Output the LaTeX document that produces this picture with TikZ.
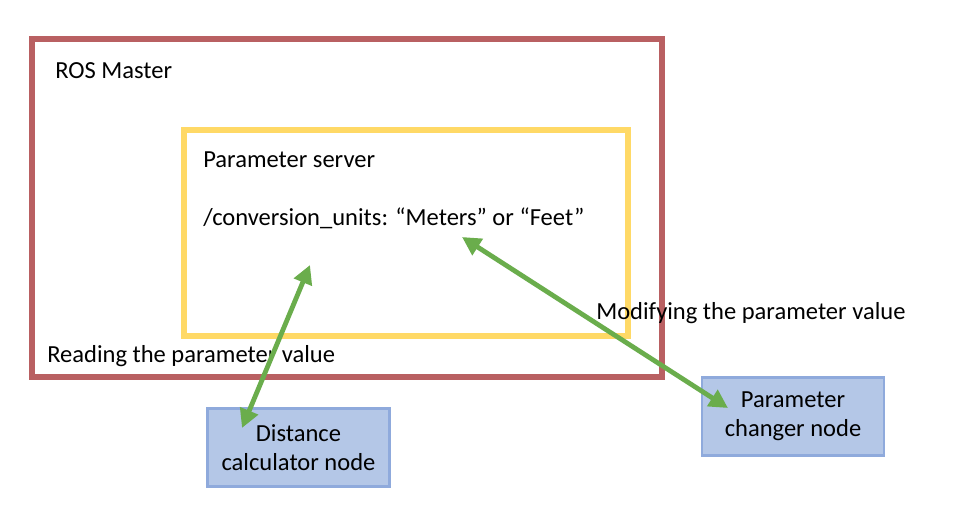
\documentclass[tikz,border=0pt]{standalone}
\usepackage{fontspec}
\setmainfont{Carlito}
\usetikzlibrary{arrows.meta}
\definecolor{masterred}{HTML}{B96062}
\definecolor{serveryellow}{HTML}{FFD966}
\definecolor{nodeblue}{HTML}{B4C7E7}
\definecolor{nodeborder}{HTML}{8FAADC}
\definecolor{arrowgreen}{HTML}{6AAD4C}
\begin{document}
\begin{tikzpicture}[x=0.75pt,y=-0.75pt,
  lbl/.style={font=\fontsize{18.4}{22}\selectfont, inner sep=0pt, anchor=west},
  rosnode/.style={draw=nodeborder, fill=nodeblue, line width=1.6pt, minimum width=136.5pt, minimum height=58.5pt, align=center, font=\fontsize{18.4}{21.75}\selectfont, inner sep=0pt},
  flow/.style={draw=arrowgreen, line width=3.6pt, {Triangle[length=14pt,width=14pt]}-{Triangle[length=14pt,width=14pt]}, shorten <=0pt, shorten >=0pt}]
\useasboundingbox (0,0) rectangle (959,518);
\fill[white] (0,0) rectangle (959,518);
\draw[masterred, line width=3.8pt] (32,39) rectangle (662,377);
\draw[serveryellow, line width=3.8pt] (184,130) rectangle (628,336);
\node[lbl] (master) at (55,71) {ROS Master};
\node[lbl] (server) at (203,160) {Parameter server};
\node[lbl] (param) at (203,218) {/conversion\_units: “Meters” or “Feet”};
\node[lbl] (reading) at (47,356) {Reading the parameter value};
\node[lbl] (modifying) at (596,313) {Modifying the parameter value};
\node[rosnode] (dist) at (298.5,447.5) {Distance\\calculator node};
\node[rosnode] (changer) at (793,416.5) {Parameter\\changer node};
\coordinate (readend) at (310,265);
\coordinate (distend) at (242,428);
\coordinate (modend) at (462,237);
\coordinate (chend) at (728,408);
\draw[flow] (distend) -- (readend);
\draw[flow] (modend) -- (chend);
\end{tikzpicture}
\end{document}
